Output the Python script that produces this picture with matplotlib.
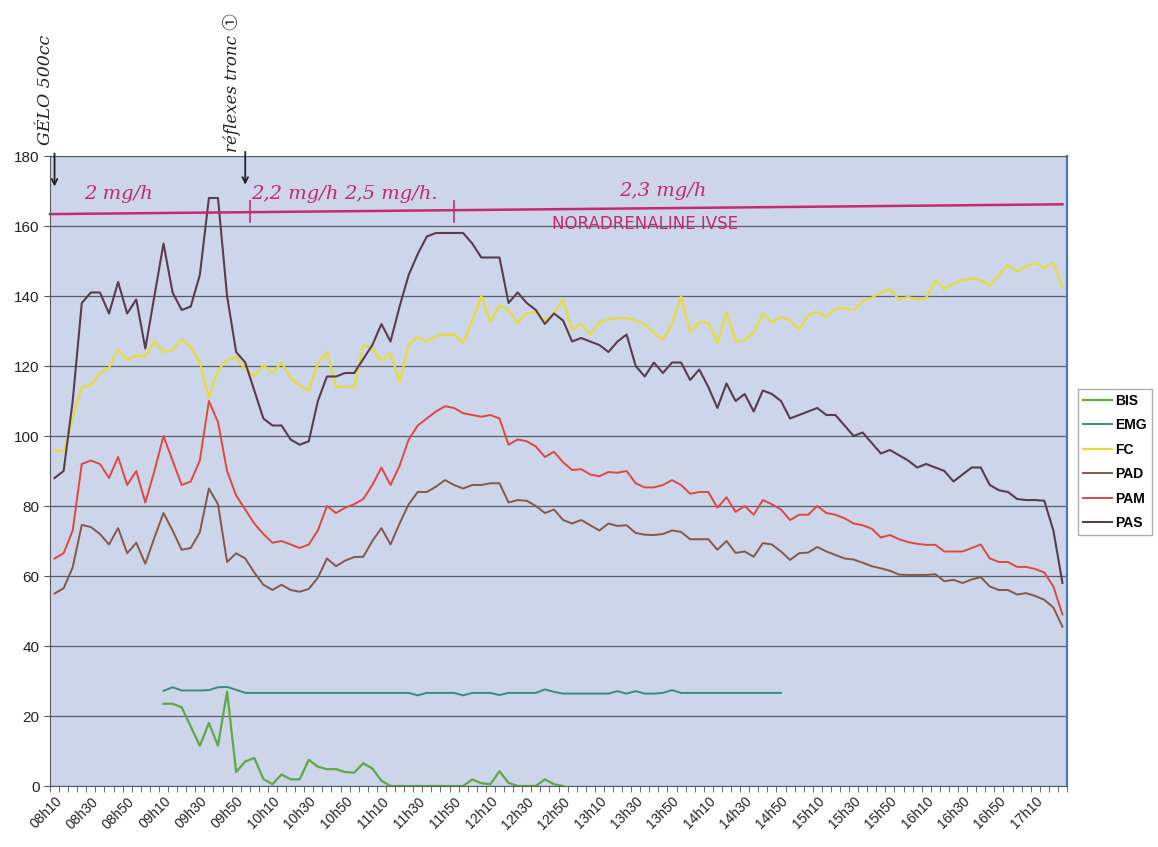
import numpy as np
import pandas as pd
import matplotlib
matplotlib.use("Agg")
import matplotlib.pyplot as plt
import matplotlib.transforms as mtransforms

# categories: one reading every 5 minutes, 08h10 -> 17h25
times = pd.date_range("2000-01-01 08:10", periods=112, freq="5min")
categories = [t.strftime("%Hh%M") for t in times]

pas = [88, 90, 110, 138, 141, 141, 135, 144, 135, 139, 125, 140, 155, 141, 136, 137,
       146, 168, 168, 140, 124, 121, 113, 105, 103, 103, 99, 97.5, 98.5, 110, 117, 117,
       118, 118, 122, 126, 132, 127, 137, 146, 152, 157, 158, 158, 158, 158, 155, 151,
       151, 151, 138, 141, 138, 136, 132, 135, 133, 127, 128, 127, 126, 124, 127, 129,
       120, 117, 121, 118, 121, 121, 116, 119, 114, 108, 115, 110, 112, 107, 113, 112,
       110, 105, 106, 107, 108, 106, 106, 103, 100, 101, 98, 95, 96, 94.5, 93, 91,
       92, 91, 90, 87, 89, 91, 91, 86, 84.5, 84, 82, 81.7, 81.7, 81.5, 73, 58]

pam = [65, 66.5, 73, 92, 93, 92, 88, 94, 86, 90, 81, 90, 100, 93, 86, 87,
       93, 110, 104, 90, 83, 79, 75, 72, 69.5, 70, 69, 68, 69, 73, 80, 78,
       79.5, 80.5, 82, 86, 91, 86, 91.5, 99, 103, 105, 107, 108.5, 108, 106.5, 106, 105.5,
       106, 105, 97.5, 99, 98.5, 97, 94, 95.5, 92.5, 90.3, 90.5, 89, 88.5, 89.7, 89.5, 90,
       86.5, 85.3, 85.3, 86, 87.4, 86, 83.5, 84, 84, 79.5, 82.5, 78.3, 80, 77.5, 81.7, 80.5,
       79, 76, 77.5, 77.5, 80, 78, 77.5, 76.5, 75, 74.5, 73.5, 71, 71.7, 70.5, 69.7, 69.2,
       68.9, 68.9, 67, 67, 67, 68, 69, 65, 64, 64, 62.6, 62.6, 62, 61, 57, 49]

pad = [55, 56.5, 62.5, 74.6, 74, 72, 69, 73.7, 66.5, 69.5, 63.5, 71, 78, 73, 67.5, 68,
       72.5, 85, 80.5, 64, 66.5, 65, 61, 57.5, 56, 57.5, 56, 55.5, 56.3, 59.5, 65, 62.8,
       64.4, 65.4, 65.5, 70, 73.7, 69, 75, 80.5, 84, 84, 85.5, 87.4, 86, 85, 86, 86,
       86.5, 86.5, 81, 81.7, 81.5, 80, 78, 79, 76, 75, 76, 74.5, 73, 75, 74.3, 74.5,
       72.3, 71.8, 71.7, 72, 73, 72.6, 70.5, 70.5, 70.5, 67.5, 70, 66.6, 67, 65.5, 69.4, 69,
       67, 64.6, 66.5, 66.7, 68.3, 67, 66, 65, 64.7, 63.8, 62.8, 62.2, 61.5, 60.4, 60.3, 60.3,
       60.3, 60.5, 58.5, 58.9, 58, 59, 59.7, 57, 56, 56, 54.7, 55.1, 54.3, 53.2, 51, 45.5]

fc = [96, 95.5, 105, 114, 114.5, 118, 119.5, 124.6, 121.7, 123, 122.7, 127, 124, 124.6, 127.5, 125.5,
      121, 111, 118.8, 121.7, 122.6, 119, 117, 120.3, 118, 121, 116.5, 114.5, 113, 120.7, 124, 114,
      114, 114, 126, 125, 121.5, 123.7, 115.5, 126, 128.3, 127, 128.5, 129, 129, 126.6, 133, 140,
      132.6, 137.4, 136, 132.3, 135, 135.4, 133, 135, 139, 130.3, 132, 129, 132.6, 133.3, 133.7, 133.7,
      133, 132, 129.5, 127.5, 132, 140, 129.7, 132.6, 132.3, 126.5, 135.5, 127, 127.5, 129.5, 135, 132.5,
      134, 133, 130.5, 134.5, 135.5, 134, 136.5, 136.5, 136, 138.5, 139.5, 141, 142, 139, 139.7, 139,
      139.5, 144.5, 142, 143.5, 144.6, 145, 144.5, 143, 146, 148.9, 147, 148.5, 149.5, 148, 149.4, 142.5]

# EMG recorded from 09h10 (category 12) to 14h50 (category 80)
emg_start = 12
emg = [27.2, 28.2, 27.3, 27.3, 27.3, 27.4, 28.2, 28.3, 27.5, 26.6, 26.6, 26.6, 26.6, 26.6, 26.6, 26.6,
       26.6, 26.6, 26.6, 26.6, 26.6, 26.6, 26.6, 26.6, 26.6, 26.6, 26.6, 26.6, 25.9, 26.6, 26.6, 26.6,
       26.6, 25.9, 26.6, 26.6, 26.6, 26.0, 26.6, 26.6, 26.6, 26.6, 27.6, 26.9, 26.4, 26.4, 26.4, 26.4,
       26.4, 26.4, 27.1, 26.4, 27.1, 26.4, 26.4, 26.6, 27.4, 26.6, 26.6, 26.6, 26.6, 26.6, 26.6, 26.6,
       26.6, 26.6, 26.6, 26.6, 26.6]

# BIS recorded from 09h10 (category 12)
bis_start = 12
bis = [23.5, 23.5, 22.5, 17, 11.5, 18, 11.5, 27, 4, 7, 8, 2, 0.5, 3.3, 1.9, 1.9,
       7.5, 5.5, 4.8, 4.8, 4, 3.8, 6.5, 5, 1.5, 0, 0, 0, 0, 0, 0, 0,
       0, 0, 1.9, 0.8, 0.5, 4.2, 0.9, 0, 0, 0, 1.9, 0.5, 0]

colors = {"BIS": "#5fa843", "EMG": "#3c8c7c", "FC": "#e6dc3a",
          "PAD": "#86584c", "PAM": "#e0483f", "PAS": "#5a3d4c"}
ink = "#c42a6c"

fig = plt.figure(figsize=(11.58, 8.47), dpi=100)
fig.patch.set_facecolor("white")
ax = fig.add_axes([50 / 1158, 61 / 847, 1017 / 1158, 630 / 847])
ax.set_facecolor("#ccd5e9")

x = np.arange(len(categories))
ax.plot(x[bis_start:bis_start + len(bis)], bis, color=colors["BIS"], lw=1.6, label="BIS")
ax.plot(x[emg_start:emg_start + len(emg)], emg, color=colors["EMG"], lw=1.4, label="EMG")
ax.plot(x, fc, color=colors["FC"], lw=1.6, label="FC")
ax.plot(x, pad, color=colors["PAD"], lw=1.4, label="PAD")
ax.plot(x, pam, color=colors["PAM"], lw=1.4, label="PAM")
ax.plot(x, pas, color=colors["PAS"], lw=1.5, label="PAS")

ax.set_xlim(-0.5, len(categories) - 0.5)
ax.set_ylim(0, 180)
ax.set_yticks(range(0, 181, 20))
ax.yaxis.grid(True, color="#5a5f6a", lw=0.9)
ax.set_axisbelow(True)
ax.set_xticks(x[::4])
ax.set_xticklabels(categories[::4], rotation=45, ha="right", rotation_mode="anchor",
                   fontsize=10, family="Liberation Sans", color="#222222")
shift = mtransforms.ScaledTranslation(-8 / 100, 0, fig.dpi_scale_trans)
for lab in ax.get_xticklabels():
    lab.set_transform(lab.get_transform() + shift)
ax.set_xticks(np.arange(-0.5, len(categories), 1), minor=True)
ax.tick_params(axis="x", which="major", length=0, pad=6)
ax.tick_params(axis="x", which="minor", length=4, color="#555555", direction="out")
ax.tick_params(axis="y", length=4, color="#555555", labelsize=11, labelcolor="#222222")
for lab in ax.get_yticklabels():
    lab.set_family("Liberation Sans")
for side in ["top", "left", "bottom"]:
    ax.spines[side].set_color("#555a66")
ax.spines["right"].set_color("#4a78b4")
ax.spines["right"].set_linewidth(1.6)

fig.legend(loc="upper left", bbox_to_anchor=(1078 / 1158, 1 - 389 / 847),
           frameon=True, fancybox=False, edgecolor="#999999",
           handlelength=2.1, borderpad=0.35, labelspacing=0.75, handletextpad=0.25,
           borderaxespad=0, prop={"family": "Liberation Sans", "size": 10, "weight": "bold"})

# handwritten annotations
hand = dict(family="DejaVu Serif", style="italic", color=ink, clip_on=False)
ax.plot([-0.5, 111], [163.4, 166.2], color=ink, lw=1.8, clip_on=False)
ax.plot([21.5, 21.5], [161, 167], color=ink, lw=1.2)
ax.plot([44, 44], [161, 167], color=ink, lw=1.2)
ax.text(7, 166.5, "2 mg/h", fontsize=14, ha="center", va="bottom", **hand)
ax.text(26.5, 166.5, "2,2 mg/h", fontsize=14, ha="center", va="bottom", **hand)
ax.text(37, 166.5, "2,5 mg/h.", fontsize=14, ha="center", va="bottom", **hand)
ax.text(67, 167.5, "2,3 mg/h", fontsize=14, ha="center", va="bottom", **hand)
ax.text(65, 160.5, "NORADRENALINE IVSE", fontsize=12, ha="center", va="center",
        family="DejaVu Sans", color=ink)

dark = dict(family=["DejaVu Serif", "Noto Sans CJK JP"], style="italic", color="#222222", clip_on=False)
ax.text(-1.0, 199, "GÉLO 500cc", rotation=90, fontsize=12.5, ha="center", va="center", **dark)
ax.text(19.5, 201, "réflexes tronc \u2460", rotation=90, fontsize=12, ha="center", va="center", **dark)
ax.annotate("", xy=(0, 170.5), xytext=(0, 181.5),
            arrowprops=dict(arrowstyle="->", color="#222222", lw=1.3), annotation_clip=False)
ax.annotate("", xy=(21, 171), xytext=(21, 182),
            arrowprops=dict(arrowstyle="->", color="#222222", lw=1.3), annotation_clip=False)

fig.savefig("out.png", dpi=100)
